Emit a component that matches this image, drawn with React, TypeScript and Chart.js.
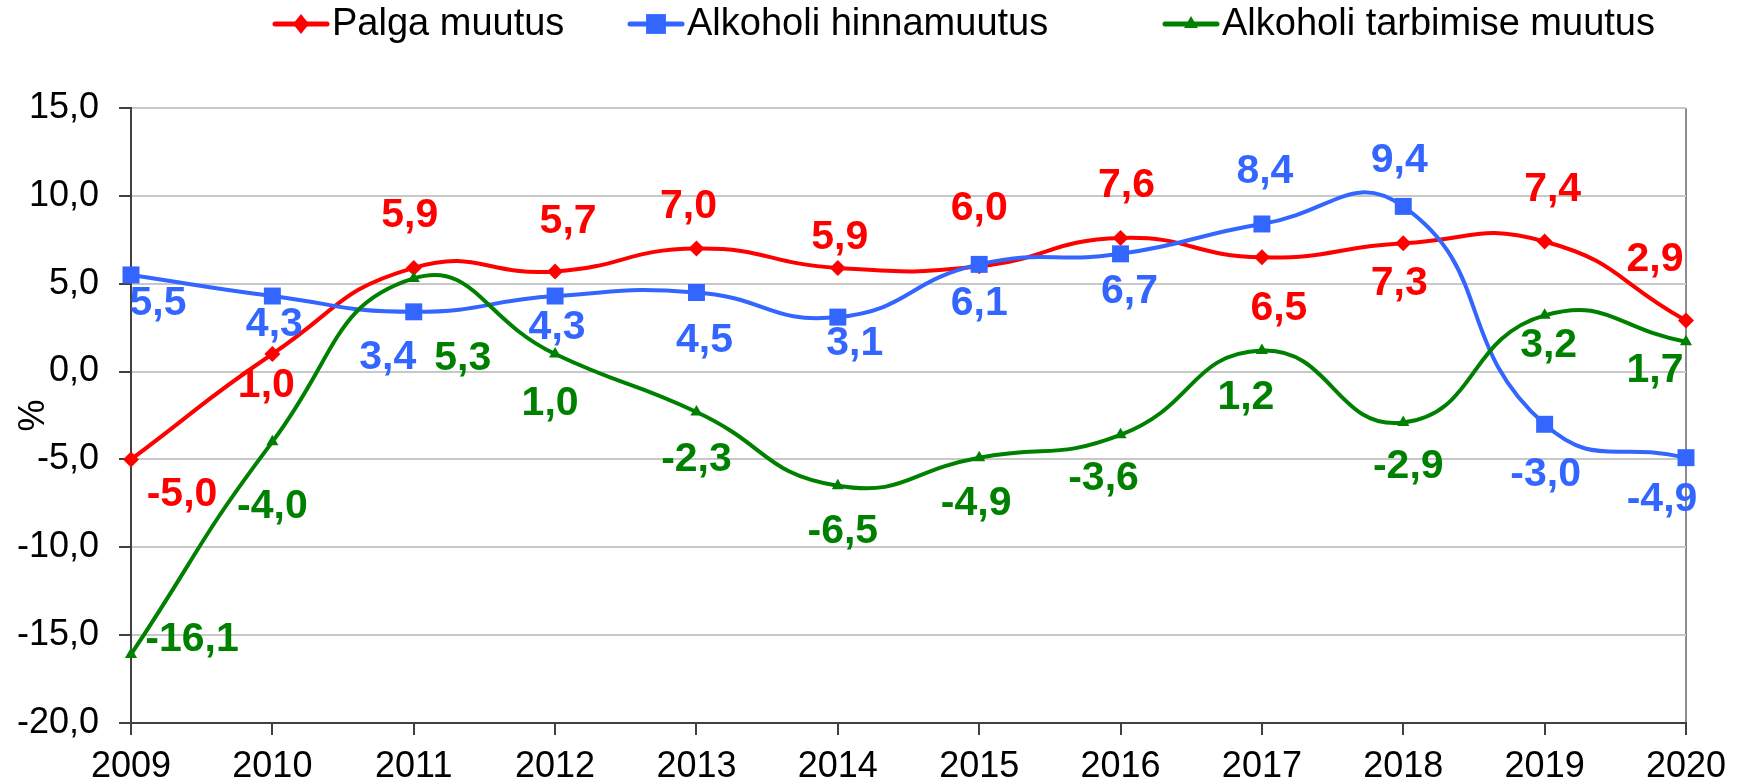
import React, { useEffect, useRef } from 'react';
import { Chart, registerables } from 'chart.js';

Chart.register(...registerables);

// ---------- data ----------
const years = ['2009', '2010', '2011', '2012', '2013', '2014', '2015', '2016', '2017', '2018', '2019', '2020'];
const palgaMuutus = [-5.0, 1.0, 5.9, 5.7, 7.0, 5.9, 6.0, 7.6, 6.5, 7.3, 7.4, 2.9];
const hinnaMuutus = [5.5, 4.3, 3.4, 4.3, 4.5, 3.1, 6.1, 6.7, 8.4, 9.4, -3.0, -4.9];
const tarbimiseMuutus = [-16.1, -4.0, 5.3, 1.0, -2.3, -6.5, -4.9, -3.6, 1.2, -2.9, 3.2, 1.7];
const seriesNames = ['Palga muutus', 'Alkoholi hinnamuutus', 'Alkoholi tarbimise muutus'];
const yMin = -20;
const yMax = 15;
const yStep = 5;

// ---------- styles ----------
const RED = '#FF0000';
const BLUE = '#3366FF';
const GREEN = '#008000';
const FONT = '"Liberation Sans", Arial, Helvetica, sans-serif';

// label offsets (px) relative to each point, per series
const palgaLabelOffsets = [[51, 35], [-6, 32], [-4, -52], [13, -50], [-8, -42], [2, -30], [0, -57], [6, -52], [17, 51], [-4, 40], [8, -52], [-31, -61]];
const hinnaLabelOffsets = [[27, 29], [2, 29], [-26, 46], [2, 32], [8, 48], [17, 27], [0, 39], [9, 38], [3, -52], [-4, -46], [1, 50], [-24, 42]];
const tarbimiseLabelOffsets = [[61, -15], [0, 65], [49, 80], [-5, 50], [0, 48], [5, 46], [-3, 46], [-17, 44], [-16, 47], [5, 44], [4, 30], [-31, 29]];
const labelOffsets = [palgaLabelOffsets, hinnaLabelOffsets, tarbimiseLabelOffsets];

const fmt = (v: number) => v.toFixed(1).replace('.', ',');

const valueLabelPlugin = {
  id: 'valueLabels',
  afterDatasetsDraw(chart: any) {
    const ctx = chart.ctx;
    chart.data.datasets.forEach((ds: any, di: number) => {
      const meta = chart.getDatasetMeta(di);
      meta.data.forEach((pt: any, i: number) => {
        const [dx, dy] = labelOffsets[di][i];
        ctx.save();
        ctx.font = `bold 41px ${FONT}`;
        ctx.fillStyle = ds.borderColor;
        ctx.textAlign = 'center';
        ctx.textBaseline = 'middle';
        ctx.fillText(fmt(ds.data[i]), pt.x + dx, pt.y + dy);
        ctx.restore();
      });
    });
  },
};

const legendItems = [
  { x: 275, color: RED, style: 'rectRot', radius: 10 },
  { x: 630, color: BLUE, style: 'rect', radius: 14 },
  { x: 1165, color: GREEN, style: 'triangle', radius: 8 },
];

function drawMarker(ctx: CanvasRenderingContext2D, style: string, r: number, x: number, y: number) {
  ctx.beginPath();
  if (style === 'rectRot') {
    ctx.moveTo(x, y - r);
    ctx.lineTo(x + r * 0.8, y);
    ctx.lineTo(x, y + r);
    ctx.lineTo(x - r * 0.8, y);
  } else if (style === 'rect') {
    const s = r * Math.SQRT1_2;
    ctx.rect(x - s, y - s, 2 * s, 2 * s);
  } else {
    ctx.moveTo(x, y - r);
    ctx.lineTo(x + r * 0.866, y + r * 0.5);
    ctx.lineTo(x - r * 0.866, y + r * 0.5);
  }
  ctx.closePath();
  ctx.fill();
}

const legendPlugin = {
  id: 'customLegend',
  afterDraw(chart: any) {
    const ctx = chart.ctx;
    const y = 24;
    legendItems.forEach((item, i) => {
      ctx.save();
      ctx.strokeStyle = item.color;
      ctx.lineWidth = 5;
      ctx.lineCap = 'round';
      ctx.beginPath();
      ctx.moveTo(item.x, y);
      ctx.lineTo(item.x + 52, y);
      ctx.stroke();
      ctx.fillStyle = item.color;
      drawMarker(ctx, item.style, item.radius, item.x + 26, y);
      ctx.font = `38px ${FONT}`;
      ctx.fillStyle = '#000';
      ctx.textAlign = 'left';
      ctx.textBaseline = 'middle';
      ctx.fillText(seriesNames[i], item.x + 57, y + 1);
      ctx.restore();
    });
  },
};

export default function App() {
  const canvasRef = useRef<HTMLCanvasElement | null>(null);

  useEffect(() => {
    if (!canvasRef.current) return;
    Chart.defaults.font.family = FONT;
    const chart = new Chart(canvasRef.current, {
      type: 'line',
      data: {
        labels: years,
        datasets: [
          {
            label: seriesNames[0],
            data: palgaMuutus,
            borderColor: RED,
            backgroundColor: RED,
            borderWidth: 4,
            pointStyle: 'rectRot',
            pointRadius: 8,
            pointBorderWidth: 0,
            tension: 0.5,
            order: 2,
          },
          {
            label: seriesNames[1],
            data: hinnaMuutus,
            borderColor: BLUE,
            backgroundColor: BLUE,
            borderWidth: 4,
            pointStyle: 'rect',
            pointRadius: 12,
            pointBorderWidth: 0,
            tension: 0.5,
            order: 1,
          },
          {
            label: seriesNames[2],
            data: tarbimiseMuutus,
            borderColor: GREEN,
            backgroundColor: GREEN,
            borderWidth: 4,
            pointStyle: 'triangle',
            pointRadius: 7,
            pointBorderWidth: 0,
            tension: 0.5,
            order: 0,
          },
        ],
      },
      options: {
        responsive: false,
        animation: false,
        devicePixelRatio: 1,
        layout: { padding: { top: 108, right: 54, left: 0, bottom: 0 } },
        plugins: {
          legend: { display: false },
          tooltip: { enabled: false },
        },
        scales: {
          x: {
            type: 'category',
            offset: false,
            grid: {
              drawOnChartArea: true,
              color: (c: any) => (c.index === years.length - 1 ? '#8C8C8C' : 'rgba(0,0,0,0)'),
              lineWidth: 2,
              tickLength: 12,
              tickColor: '#404040',
            },
            border: { color: '#404040', width: 2 },
            ticks: { color: '#000', font: { size: 36, family: FONT }, padding: 10, maxRotation: 0, autoSkip: false },
            afterFit: (s: any) => { s.height = 61; },
          },
          y: {
            min: yMin,
            max: yMax,
            grid: { color: '#C8C8C8', lineWidth: 2, tickLength: 12, tickColor: '#404040' },
            border: { color: '#404040', width: 2 },
            ticks: {
              stepSize: yStep,
              color: '#000',
              font: { size: 36, family: FONT },
              padding: 20,
              callback: (v: any) => fmt(Number(v)),
            },
            title: { display: true, text: '%', color: '#000', font: { size: 36, family: FONT }, padding: { top: 12, bottom: 0 } },
            afterFit: (s: any) => { s.width = 131; },
          },
        },
      },
      plugins: [valueLabelPlugin, legendPlugin],
    });
    return () => chart.destroy();
  }, []);

  return (
    <div style={{ position: 'absolute', left: 0, top: 0, width: 1740, height: 784, background: '#fff' }}>
      <canvas ref={canvasRef} width={1740} height={784} style={{ display: 'block', width: 1740, height: 784 }} />
    </div>
  );
}
